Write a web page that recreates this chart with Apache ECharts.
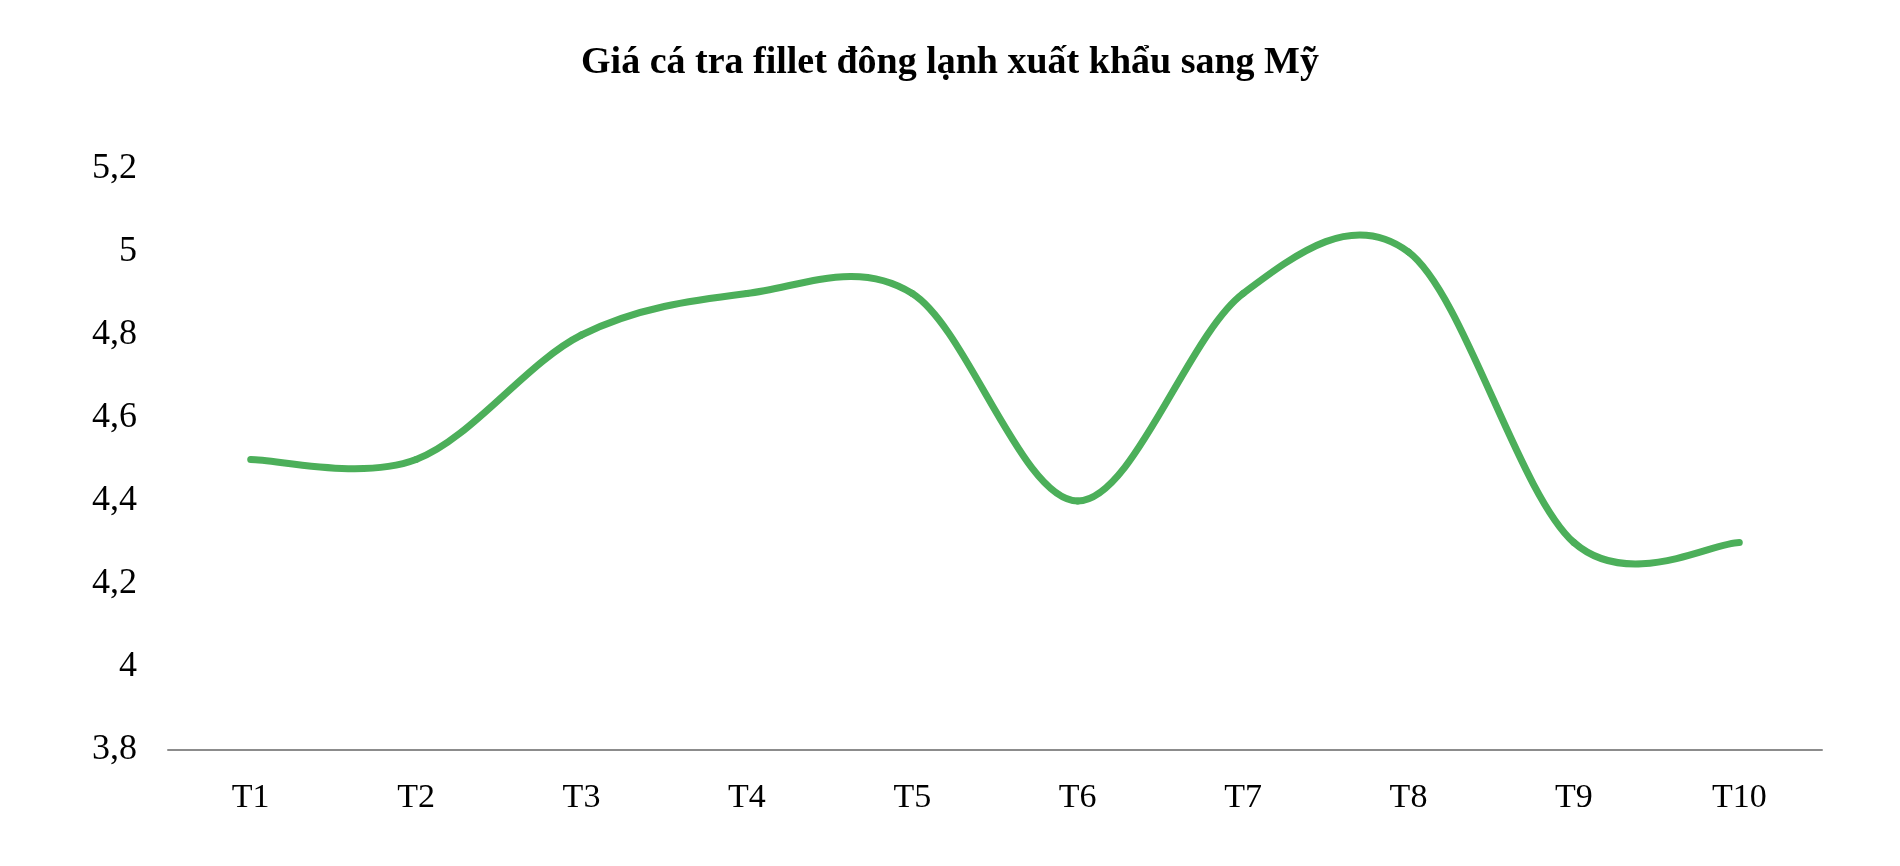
<!DOCTYPE html>
<html>
<head>
<meta charset="utf-8">
<script src="https://cdn.jsdelivr.net/npm/echarts@6/dist/echarts.min.js"></script>
<style>
html,body{margin:0;padding:0;background:#fff;}
#chart{width:1900px;height:866px;}
</style>
</head>
<body>
<div id="chart"></div>
<script>
const titleText = 'Giá cá tra fillet đông lạnh xuất khẩu sang Mỹ';
const categories = ['T1','T2','T3','T4','T5','T6','T7','T8','T9','T10'];
const prices = [4.5, 4.5, 4.8, 4.9, 4.9, 4.4, 4.9, 5.0, 4.3, 4.3];
const yTicks = {min: 3.8, max: 5.2, interval: 0.2};

const lineColor = '#4caf5a';
const seriesData = categories.map((c, i) => [i, prices[i]]);

// Excel-like Catmull-Rom smoothing: each item draws the segment to the next point
function renderSegment(params, api) {
  const i = params.dataIndex;
  const n = prices.length;
  if (i >= n - 1) return null;
  const pt = k => api.coord([Math.max(0, Math.min(n - 1, k)), prices[Math.max(0, Math.min(n - 1, k))]]);
  const p0 = pt(i - 1), p1 = pt(i), p2 = pt(i + 1), p3 = pt(i + 2);
  return {
    type: 'bezierCurve',
    shape: {
      x1: p1[0], y1: p1[1],
      cpx1: p1[0] + (p2[0] - p0[0]) / 6, cpy1: p1[1] + (p2[1] - p0[1]) / 6,
      cpx2: p2[0] - (p3[0] - p1[0]) / 6, cpy2: p2[1] - (p3[1] - p1[1]) / 6,
      x2: p2[0], y2: p2[1]
    },
    style: {stroke: lineColor, lineWidth: 7, fill: null, lineCap: 'round', lineJoin: 'round'},
    silent: true
  };
}

const chart = echarts.init(document.getElementById('chart'));
chart.setOption({
  backgroundColor: '#ffffff',
  animation: false,
  title: {
    text: titleText,
    left: 'center',
    top: 39,
    textStyle: {fontFamily: 'Liberation Serif', fontWeight: 'bold', fontSize: 38, color: '#000'}
  },
  grid: {left: 168, right: 78, top: 169, bottom: 116},
  xAxis: {
    type: 'category',
    data: categories,
    boundaryGap: true,
    axisLine: {show: true, lineStyle: {color: '#8c8c8c', width: 2}},
    axisTick: {show: false},
    axisLabel: {fontFamily: 'Liberation Serif', fontSize: 34, color: '#000', margin: 31}
  },
  yAxis: {
    type: 'value',
    min: yTicks.min, max: yTicks.max, interval: yTicks.interval,
    axisLine: {show: false},
    axisTick: {show: false},
    splitLine: {show: false},
    axisLabel: {
      fontFamily: 'Liberation Serif', fontSize: 36, color: '#000', margin: 31,
      formatter: v => String(parseFloat(v.toFixed(1))).replace('.', ',')
    }
  },
  series: [{
    type: 'custom',
    data: seriesData,
    encode: {x: 0, y: 1},
    renderItem: renderSegment
  }]
});
</script>
</body>
</html>
